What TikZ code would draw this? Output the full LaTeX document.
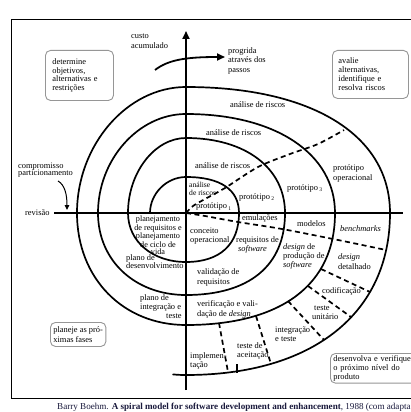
\documentclass[tikz,border=0pt]{standalone}
\usepackage{fontspec}
\setmainfont{Liberation Serif}
\usetikzlibrary{arrows.meta}
\definecolor{boxgray}{RGB}{150,150,150}
\definecolor{capblue}{RGB}{25,25,60}
\newcommand{\subnum}[1]{\raisebox{-1.5pt}{\fontsize{5.5}{6}\selectfont #1}}
\begin{document}
\begin{tikzpicture}[x=1pt,y=-1pt,
  lbl/.style={font=\fontsize{8.4}{9.3}\selectfont, inner sep=0pt, align=left, anchor=north west},
  spiral/.style={line width=1.7pt, line cap=round},
  axis/.style={line width=1.9pt},
  sep/.style={line width=1.7pt, dash pattern=on 5pt off 3.5pt},
  rbox/.style={draw=boxgray, line width=0.9pt, rounded corners=5pt, font=\fontsize{8.4}{8.9}\selectfont, align=left, anchor=north west, inner ysep=2pt},
]
\useasboundingbox (0,0) rectangle (410,412);
\fill[white] (0,0) rectangle (410,412);

% frame
\draw[line width=1pt] (420,20) -- (11,20) -- (11,398) -- (420,398);

% axes
\coordinate (vbot) at (186,390);
\coordinate (vtop) at (186,31);
\draw[axis, -{Triangle[length=8pt,width=7pt]}] (vbot) -- (vtop);
\coordinate (hl) at (54,213);
\coordinate (hr) at (403,213);
\draw[axis] (hl) -- (hr);
\coordinate (O) at (186,213);

% spiral
\draw[spiral] (150,213)
 .. controls (150,193.6) and (166.6,177) .. (186,177)
 .. controls (221,177) and (239,190) .. (239,213)
 .. controls (239,244.4) and (220,262) .. (186,262)
 .. controls (152.4,262) and (128,241.4) .. (128,213)
 .. controls (128,172.5) and (154.7,138) .. (186,138)
 .. controls (245.4,138) and (285,168) .. (285,213)
 .. controls (285,265.5) and (249.4,295) .. (186,295)
 .. controls (135,295) and (98,260.6) .. (98,213)
 .. controls (98,159.5) and (138.5,114) .. (186,114)
 .. controls (275.4,114) and (335,153.6) .. (335,213)
 .. controls (335,284.7) and (281.4,325) .. (186,325)
 .. controls (122.8,325) and (77,278) .. (77,213)
 .. controls (77,145) and (127.1,87) .. (186,87)
 .. controls (312,87) and (390,135) .. (390,213)
 .. controls (390,313.4) and (312.5,375) .. (186,375)
 .. controls (181,375) and (177,374.8) .. (173,374.4);

% dashed radial lines
\draw[sep] plot[smooth] coordinates {(O) (193,206) (205,199) (225,188) (258,167) (290,154) (318,144) (344,130)};
\draw[sep] plot[smooth] coordinates {(O) (205,216) (238,222) (282,229) (338,240) (386,250)};
\draw[sep] (321,269) -- (370,292);
\draw[sep] (308,286) -- (351,317);
\draw[sep] (288,301) -- (324,340);
\draw[sep] (256,316) -- (271,364);
\draw[sep] (219,323) -- (228,372);
\draw[line width=1.5pt] (237,364) -- (237,373);

% arrows
\coordinate (pa) at (155,70);
\coordinate (pb) at (225,57);
\draw[line width=1.8pt, -{Triangle[length=8pt,width=7pt]}] (pa) .. controls (168,60) and (185,57) .. (pb);
\coordinate (ca) at (58,181);
\coordinate (cb) at (67,210);
\draw[line width=1pt, -{Triangle[length=5pt,width=4.5pt]}] (ca) .. controls (65,185) and (67,195) .. (cb);

% labels
\node[lbl, font=\fontsize{8.4}{10}\selectfont] (custo) at (131,33.5) {custo\\acumulado};
\node[lbl] (progrida) at (228,47.5) {progrida\\através dos\\passos};
\node[rbox, text width=54pt, inner xsep=7pt, minimum height=50pt] (determine) at (45,50) {determine\\objetivos,\\alternativas e\\restrições};
\node[rbox, text width=64pt, inner xsep=6pt, minimum height=48pt] (avalie) at (332,50) {avalie\\alternativas,\\identifique e\\resolva riscos};

\node[lbl] (ar1) at (230,101) {análise de riscos};
\node[lbl] (ar2) at (206,129) {análise de riscos};
\node[lbl] (ar3) at (195,162) {análise de riscos};
\node[lbl, font=\fontsize{7.6}{7.2}\selectfont] (ar0) at (189,182.5) {análise\\de riscos};
\node[lbl] (p1) at (196,202.5) {protótipo\,\subnum{1}};
\node[lbl] (p2) at (239,193) {protótipo\,\subnum{2}};
\node[lbl] (p3) at (287,184) {protótipo\,\subnum{3}};
\node[lbl, font=\fontsize{8.4}{10}\selectfont] (pop) at (333,164) {protótipo\\operacional};

\node[lbl] (rev) at (25,209.5) {revisão};
\node[lbl, font=\fontsize{8.4}{7.7}\selectfont] (comp) at (18,162.5) {compromisso\\particionamento};
\node[lbl, align=center, anchor=north, font=\fontsize{8.2}{7.1}\selectfont] (plreq) at (158,216) {planejamento\\de requisitos e\\planejamento\\de ciclo de\\vida};
\node[lbl, font=\fontsize{8.4}{8.6}\selectfont] (pldes) at (126,254) {plano de\\desenvolvimento};
\node[lbl, font=\fontsize{8.4}{9}\selectfont] (plint) at (140,294) {plano de\\integração e\\\hspace*{26pt}teste};
\node[rbox, inner xsep=3pt, minimum height=24pt, font=\fontsize{8.4}{9.8}\selectfont] (planeje) at (50,322) {planeje as pró-\\ximas fases};

\node[lbl, font=\fontsize{8.4}{8.8}\selectfont] (conc) at (190,228) {conceito\\operacional};
\node[lbl] (emul) at (242,214.5) {emulações};
\node[lbl] (model) at (297,220) {modelos};
\node[lbl] (bench) at (340,225) {\textit{benchmarks}};
\node[lbl, font=\fontsize{8.4}{8.5}\selectfont] (reqsw) at (236,236.5) {requisitos de\\\hspace*{2pt}\textit{software}};
\node[lbl, font=\fontsize{8.4}{9.2}\selectfont] (dps) at (283,243.5) {\textit{design} de\\produção de\\\textit{software}};
\node[lbl, font=\fontsize{8.4}{10}\selectfont] (ddet) at (338,253.5) {\textit{design}\\detalhado};
\node[lbl, font=\fontsize{8.4}{10}\selectfont] (valreq) at (197,268.5) {validação de\\requisitos};
\node[lbl, font=\fontsize{8.4}{10}\selectfont] (verval) at (197,300.5) {verificação e vali-\\dação de \textit{design}};
\node[lbl] (cod) at (322,287.5) {codificação};
\node[lbl, font=\fontsize{8.4}{9}\selectfont] (tu) at (312,305.5) {\hspace*{2pt}teste\\unitário};
\node[lbl, font=\fontsize{8.4}{9}\selectfont] (integ) at (275,326.5) {integração\\e teste};
\node[lbl, font=\fontsize{8.4}{9}\selectfont] (acei) at (237,342.5) {teste de\\aceitação};
\node[lbl, font=\fontsize{8.4}{9}\selectfont] (impl) at (190,352.5) {implemen-\\tação};
\node[rbox, text width=104pt, inner xsep=3pt, minimum height=28pt, font=\fontsize{8.4}{9}\selectfont] (desenv) at (330,353) {desenvolva e verifique\\o próximo nível do\\produto};

\node[lbl, anchor=west, text=capblue, font=\fontsize{9.1}{9.5}\selectfont] (cap) at (57,407) {Barry Boehm. \textbf{A spiral model for software development and enhancement}, 1988 (com adapta};
\end{tikzpicture}
\end{document}
